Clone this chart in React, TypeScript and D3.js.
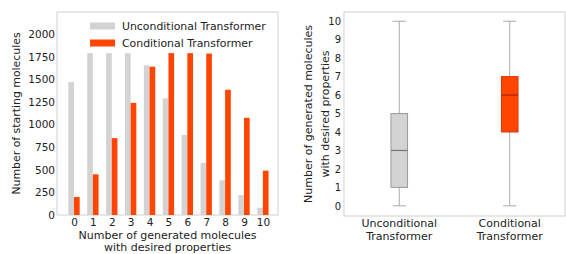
import { useEffect, useRef } from "react";
import * as d3 from "d3";

const counts = [0, 1, 2, 3, 4, 5, 6, 7, 8, 9, 10];
const uncondValues = [1470, 1790, 1790, 1790, 1655, 1290, 885, 575, 385, 220, 80];
const condValues = [200, 450, 850, 1240, 1640, 1790, 1790, 1785, 1385, 1075, 490];
const yTicksLeft = [0, 250, 500, 750, 1000, 1250, 1500, 1750, 2000];
const seriesNames = ["Unconditional Transformer", "Conditional Transformer"];

const boxGroups = [["Unconditional", "Transformer"], ["Conditional", "Transformer"]];
// min, q1, median, q3, max
const boxStats = [
  [0, 1, 3, 5, 10],
  [0, 4, 6, 7, 10],
];
const yTicksRight = [0, 1, 2, 3, 4, 5, 6, 7, 8, 9, 10];

const GRAY = "#d3d3d3";
const ORANGE = "#ff4500";
const TEXT = "#222";
const FONT = "DejaVu Sans, sans-serif";

const App = () => {
  const svgRef = useRef<SVGSVGElement>(null);

  useEffect(() => {
    const svg = d3.select(svgRef.current);
    svg.selectAll("*").remove();

    // ---------- left: grouped bars ----------
    const L = { x0: 57, x1: 278, y0: 12, y1: 215 };
    const x = d3.scaleLinear().domain([-0.9, 10.8]).range([L.x0, L.x1]);
    const y = d3.scaleLinear().domain([0, 2245]).range([L.y1, L.y0]);
    const bw = 0.3;

    const left = svg.append("g");
    left.append("rect")
      .attr("x", L.x0).attr("y", L.y0)
      .attr("width", L.x1 - L.x0).attr("height", L.y1 - L.y0)
      .attr("fill", "white").attr("stroke", "#d0d0d0");

    left.append("g").selectAll("rect")
      .data(counts)
      .join("rect")
      .attr("x", (d) => x(d - bw))
      .attr("width", x(bw) - x(0))
      .attr("y", (_, i) => y(uncondValues[i]))
      .attr("height", (_, i) => y(0) - y(uncondValues[i]))
      .attr("fill", GRAY);

    left.append("g").selectAll("rect")
      .data(counts)
      .join("rect")
      .attr("x", (d) => x(d))
      .attr("width", x(bw) - x(0))
      .attr("y", (_, i) => y(condValues[i]))
      .attr("height", (_, i) => y(0) - y(condValues[i]))
      .attr("fill", ORANGE);

    const yAxL = d3.axisLeft(y).tickValues(yTicksLeft).tickFormat(d3.format("d"))
      .tickSize(0).tickPadding(2);
    left.append("g").attr("transform", `translate(${L.x0},0)`).call(yAxL)
      .call((g) => g.select(".domain").remove());

    const xAxL = d3.axisBottom(x).tickValues(counts).tickFormat(d3.format("d"))
      .tickSize(0).tickPadding(4);
    left.append("g").attr("transform", `translate(0,${L.y1})`).call(xAxL)
      .call((g) => g.select(".domain").remove());

    left.selectAll(".tick text")
      .attr("font-family", FONT).attr("font-size", 10.5).attr("fill", TEXT);

    // legend
    const lg = left.append("g");
    seriesNames.forEach((name, i) => {
      const cy = 26 + i * 17;
      lg.append("rect").attr("x", 90).attr("y", cy - 3.5).attr("width", 25).attr("height", 7)
        .attr("fill", i === 0 ? GRAY : ORANGE);
      lg.append("text").attr("x", 122).attr("y", cy + 4).text(name)
        .attr("font-family", FONT).attr("font-size", 10.9).attr("fill", TEXT);
    });

    left.append("text")
      .attr("transform", `translate(20,${(L.y0 + L.y1) / 2}) rotate(-90)`)
      .attr("text-anchor", "middle").text("Number of starting molecules")
      .attr("font-family", FONT).attr("font-size", 10.9).attr("fill", TEXT);

    ["Number of generated molecules", "with desired properties"].forEach((t, i) => {
      left.append("text").attr("x", (L.x0 + L.x1) / 2).attr("y", 239 + i * 12)
        .attr("text-anchor", "middle").text(t)
        .attr("font-family", FONT).attr("font-size", 11).attr("fill", TEXT);
    });

    // ---------- right: box plot ----------
    const R = { x0: 344, x1: 565, y0: 12, y1: 216 };
    const bx = d3.scaleLinear().domain([0.5, 2.5]).range([R.x0, R.x1]);
    const by = d3.scaleLinear().domain([-0.55, 10.5]).range([R.y1, R.y0]);
    const right = svg.append("g");
    right.append("rect")
      .attr("x", R.x0).attr("y", R.y0)
      .attr("width", R.x1 - R.x0).attr("height", R.y1 - R.y0)
      .attr("fill", "white").attr("stroke", "#d0d0d0");

    const boxW = 0.15;
    const capW = 0.06;
    boxStats.forEach((s, i) => {
      const cx = bx(i + 1);
      const g = right.append("g");
      const [mn, q1, med, q3, mx] = s;
      g.append("line").attr("x1", cx).attr("x2", cx).attr("y1", by(mn)).attr("y2", by(q1))
        .attr("stroke", "#aaa");
      g.append("line").attr("x1", cx).attr("x2", cx).attr("y1", by(q3)).attr("y2", by(mx))
        .attr("stroke", "#aaa");
      [mn, mx].forEach((v) => {
        g.append("line").attr("x1", bx(i + 1 - capW)).attr("x2", bx(i + 1 + capW))
          .attr("y1", by(v)).attr("y2", by(v)).attr("stroke", "#aaa");
      });
      g.append("rect")
        .attr("x", bx(i + 1 - boxW / 2)).attr("width", bx(boxW) - bx(0))
        .attr("y", by(q3)).attr("height", by(q1) - by(q3))
        .attr("fill", i === 0 ? GRAY : ORANGE)
        .attr("stroke", i === 0 ? "#999" : "#d93a00");
      g.append("line").attr("x1", bx(i + 1 - boxW / 2)).attr("x2", bx(i + 1 + boxW / 2))
        .attr("y1", by(med)).attr("y2", by(med))
        .attr("stroke", i === 0 ? "#777" : "#a02800").attr("stroke-width", 1.2);
    });

    const yAxR = d3.axisLeft(by).tickValues(yTicksRight).tickFormat(d3.format("d"))
      .tickSize(0).tickPadding(3);
    right.append("g").attr("transform", `translate(${R.x0},0)`).call(yAxR)
      .call((g) => g.select(".domain").remove());
    right.selectAll(".tick text")
      .attr("font-family", FONT).attr("font-size", 10).attr("fill", TEXT);

    boxGroups.forEach((lines, i) => {
      lines.forEach((t, j) => {
        right.append("text").attr("x", bx(i + 1)).attr("y", 227 + j * 13)
          .attr("text-anchor", "middle").text(t)
          .attr("font-family", FONT).attr("font-size", 11).attr("fill", TEXT);
      });
    });

    ["Number of generated molecules", "with desired properties"].forEach((t, i) => {
      right.append("text")
        .attr("transform", `translate(${312 + i * 17},${(R.y0 + R.y1) / 2}) rotate(-90)`)
        .attr("text-anchor", "middle").text(t)
        .attr("font-family", FONT).attr("font-size", 11).attr("fill", TEXT);
    });
  }, []);

  return (
    <svg
      ref={svgRef}
      width={566}
      height={254}
      style={{ position: "absolute", left: 0, top: 0, background: "white" }}
    />
  );
};

export default App;
